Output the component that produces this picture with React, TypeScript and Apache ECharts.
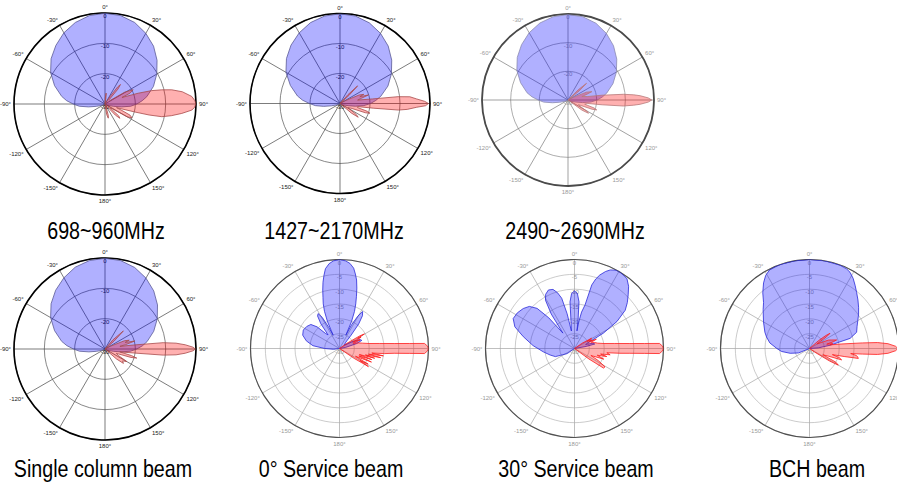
import React, { useEffect, useRef } from 'react';
import * as echarts from 'echarts';

type Pat = [number, number][]; // [angle (deg, clockwise from top), level (dB)]

// ---- tick labels / titles ----
const topTitles = ['698~960MHz', '1427~2170MHz', '2490~2690MHz'];
const bottomTitles = ['Single column beam', '0° Service beam', '30° Service beam', 'BCH beam'];
const radiusMin = -30;
const radiusMax = 0;

// ---- 698~960MHz ----
const h698: Pat = [[-180,-30],[-130,-30],[-115,-29],[-105,-27],[-100,-24.5],[-95,-21.5],[-90,-19.5],[-85,-17.3],[-80,-15.5],[-70,-12.3],[-60,-9.3],[-50,-6.8],[-40,-4.8],[-30,-2.9],[-20,-1.4],[-10,-0.4],[0,-0.1],[10,-0.4],[20,-1.4],[30,-3.1],[40,-5.1],[50,-7.6],[60,-10.3],[70,-13],[80,-16],[85,-17.7],[90,-19.5],[95,-21.5],[100,-24.5],[105,-27],[115,-29],[130,-30],[180,-30]];
const v698: Pat = [[0,-30],[3,-28],[6,-26.4],[9,-28],[14,-30],[31,-30],[34,-27],[36.5,-23],[38.5,-21.8],[41,-23.5],[44,-28],[55,-28],[59,-22.5],[63,-19.6],[66.5,-21],[69,-24],[72,-18.5],[74,-14],[76,-10.7],[78,-7.5],[81,-4.2],[85,-1.3],[88,-0.3],[90,-0.1],[92,-0.4],[94,-1.3],[97,-4.5],[100,-7.8],[102.6,-10.8],[104,-15],[105,-19.8],[107.5,-26],[111,-24],[114,-21],[117,-20],[120,-21.5],[123,-27],[127,-28],[131,-24],[134,-23.2],[137,-25],[141,-29],[160,-29],[164,-26],[167,-25.2],[171,-26.5],[176,-30],[180,-30]];

// ---- 1427~2170MHz ----
const h1427: Pat = [[-180,-30],[-130,-30],[-115,-29],[-105,-27],[-100,-24.5],[-95,-21.8],[-90,-19.8],[-85,-17.5],[-80,-15.6],[-70,-12.4],[-60,-9.2],[-50,-6.7],[-40,-4.6],[-30,-2.8],[-20,-1.3],[-10,-0.4],[0,-0.1],[10,-0.4],[20,-1.4],[30,-3],[40,-5],[50,-7.5],[60,-10.2],[70,-13],[80,-16.2],[85,-18],[90,-19.8],[95,-22],[100,-24.8],[105,-27.2],[115,-29],[130,-30],[180,-30]];
const v1427: Pat = [[0,-30],[40,-30],[42,-26],[45,-21.7],[48,-26],[52,-30],[62,-28],[66,-23],[69,-21.5],[71,-23],[73.3,-20.1],[76,-22.5],[79,-24],[82,-19],[83.3,-10.5],[84.5,-6.6],[86.6,-4.4],[88.5,-1.8],[90,-0.5],[91.5,-1.5],[92.8,-4.4],[95,-7.5],[96.4,-10.4],[98,-18.8],[100,-24],[103,-24],[106,-20.5],[108,-19.5],[110,-21],[113,-26],[118,-27],[124,-23.5],[127,-22.4],[130,-25],[134,-30],[180,-30]];

// ---- 2490~2690MHz ----
const h2490: Pat = [[-180,-30],[-130,-30],[-115,-29],[-105,-27],[-100,-24.5],[-95,-21.5],[-90,-19.6],[-85,-17.4],[-80,-15.5],[-70,-12.4],[-60,-9.4],[-50,-6.9],[-40,-4.8],[-30,-2.9],[-20,-1.4],[-10,-0.5],[0,-0.2],[10,-0.5],[20,-1.5],[30,-3.2],[40,-5.3],[50,-7.8],[60,-10.5],[70,-13.3],[80,-16.3],[85,-18],[90,-19.8],[95,-22],[100,-24.8],[105,-27.2],[115,-29],[130,-30],[180,-30]];
const v2490: Pat = [[0,-30],[42,-30],[45,-25],[48,-21.3],[51,-25],[55,-30],[63,-28],[67,-23],[70.7,-21.2],[73,-23],[76,-25],[80,-23],[82,-18],[84.1,-10.6],[85.5,-7],[86.6,-4.8],[88.5,-2],[90,-0.8],[91.5,-2],[93.4,-4.8],[94.5,-7],[96.2,-10.6],[98,-18],[100,-23],[104,-24],[107,-20.5],[109,-19.4],[111,-21],[114,-26],[118,-25],[121,-22],[123,-21.5],[126,-24],[130,-30],[180,-30]];

// ---- Single column beam ----
const hSingle: Pat = [[-180,-30],[-130,-30],[-115,-29],[-105,-27],[-100,-24.6],[-95,-21.6],[-90,-19.6],[-85,-17.4],[-80,-15.5],[-70,-12.3],[-60,-9.3],[-50,-6.8],[-40,-4.7],[-30,-2.9],[-20,-1.3],[-10,-0.4],[0,-0.1],[10,-0.4],[20,-1.4],[30,-3],[40,-5],[50,-7.4],[60,-10.1],[70,-12.9],[80,-15.9],[85,-17.6],[90,-19.5],[95,-21.6],[100,-24.6],[105,-27],[115,-29],[130,-30],[180,-30]];
const vSingle: Pat = [[0,-30],[38,-30],[41,-26],[45.5,-21.5],[49,-26],[53,-30],[63,-28],[67,-23],[70,-21.5],[72,-23],[75,-19.8],[78,-23],[80,-25],[82,-20.6],[83.8,-10.7],[85.3,-6.5],[87,-3.5],[88.8,-1],[90,-0.2],[91.2,-1],[93,-3.5],[94.7,-6.5],[96,-10.7],[98,-20.6],[101,-25],[104,-21],[106,-19.1],[108,-21],[111,-26],[116,-25],[120,-21.7],[124,-23],[128,-22.3],[131,-25],[135,-30],[180,-30]];

// ---- 0° Service beam ----
const hSvc0: Pat = [[-180,-30],[-110,-30],[-98,-28],[-90,-25],[-84,-21],[-77,-18.5],[-70,-16.8],[-63,-16.3],[-56,-16.7],[-50,-17.4],[-46,-19.5],[-43,-23],[-40,-24],[-37,-19.5],[-34,-16.8],[-31.5,-16.2],[-29,-18],[-27,-22],[-25.5,-25],[-24,-20],[-22,-16.5],[-20,-14],[-18,-12],[-16,-9.5],[-14,-7],[-12,-4.8],[-10,-2.7],[-7,-1.2],[-4,-0.4],[0,0],[4,-0.4],[7,-1.1],[10,-2.5],[12,-4.3],[14,-6.2],[16,-8.8],[18,-11.5],[20,-14],[22,-16.5],[24,-20],[25.5,-25],[27,-21],[29.5,-17.5],[32,-15.3],[35,-16.5],[38,-19.5],[41,-24],[45,-27],[55,-28],[62,-25],[66,-22.5],[70,-22],[74,-24],[80,-28],[90,-30],[180,-30]];
const vSvc0: Pat = [[0,-30],[50,-30],[55,-27],[58,-22],[59.7,-20.3],[61,-23],[62.5,-21.8],[64,-25],[66,-23],[67.5,-22.5],[69.5,-25],[73,-23.5],[77,-22],[80.4,-19.9],[82.8,-16.5],[84.8,-11.5],[85.9,-6.4],[86.6,-1.3],[88.5,-0.3],[90,0],[91.5,-0.3],[93.4,-1.3],[94,-6.4],[95,-11.5],[96.5,-14.8],[98,-19],[99.5,-15],[101,-20],[102.5,-15.8],[104,-21],[105.5,-17.7],[107,-23],[109,-18.5],[111,-23],[113,-18.3],[116,-24],[118.5,-19],[120.5,-22],[122,-18.5],[124,-24],[128,-30],[180,-30]];

// ---- 30° Service beam ----
const hSvc30: Pat = [[-180,-30],[-140,-30],[-125,-27],[-113,-23],[-105,-21.5],[-96,-19.4],[-86,-16],[-77,-12.3],[-70,-8.6],[-64,-7],[-58,-7.3],[-52,-8.1],[-47,-9.2],[-43,-11.5],[-40,-16.5],[-37,-23.5],[-34,-16],[-31,-11],[-28,-9.3],[-24,-8.4],[-20,-8.8],[-17,-10.3],[-14.3,-12.5],[-12,-18],[-10,-24],[-7,-20],[-5.5,-14.2],[-3,-11.4],[0,-10.6],[3,-11.4],[5.5,-14.2],[7,-20],[8,-24],[9,-21],[11,-17.5],[13.6,-14.9],[15.2,-7.8],[17,-5.5],[19,-3.8],[22,-2],[24.5,-0.9],[28,-0.1],[31,0],[34,-0.3],[37,-0.6],[41,-2.2],[45,-4.4],[49,-6.4],[53,-8.6],[57.5,-13],[62,-19],[66,-24.3],[70,-26],[74,-23.5],[77.5,-23],[80,-26],[86,-30],[180,-30]];
const vSvc30: Pat = [[0,-30],[50,-30],[55,-27],[59,-23.3],[61,-25],[63.7,-23.5],[65,-24.5],[67,-22],[69,-24],[73,-23],[77,-22],[80.4,-19.9],[82.8,-16.5],[84.8,-11.5],[85.9,-6.4],[86.6,-1.3],[88.5,-0.3],[90,0],[91.5,-0.3],[93.4,-1.3],[94,-6.4],[95,-11.5],[96,-14.6],[97.5,-19],[100,-17.8],[102,-21],[104,-18.8],[106.5,-22],[110,-19.5],[113,-24],[117,-21],[121,-18],[124,-18.2],[126,-24],[130,-30],[180,-30]];

// ---- BCH beam ----
const hBch: Pat = [[-180,-30],[-125,-30],[-112,-26],[-104,-23.3],[-96,-20.5],[-90,-19],[-82,-16.5],[-75,-15],[-70,-14],[-60,-12.1],[-50,-9.6],[-45,-8.1],[-40,-5.5],[-35,-3],[-31,-1.3],[-27,-0.3],[-20,0],[-10,0],[0,0],[10,0],[20,-0.1],[25,-0.4],[28,-0.9],[32,-2.2],[36,-3.8],[40,-5.3],[45,-6.9],[50,-8.4],[55,-9.8],[60,-11.2],[65,-12.3],[71,-13.2],[76,-15.9],[81,-23],[86,-27],[92,-30],[180,-30]];
const vBch: Pat = [[0,-30],[45,-30],[49,-26],[51.5,-23],[53.5,-21.4],[55.5,-23],[58,-27],[62,-26],[66,-23],[69,-22],[72.5,-20.4],[74,-21.6],[76,-24],[78,-22],[80,-23],[82,-19],[84,-12],[85,-7],[86.5,-3.5],[88.5,-1],[90,-0.2],[91.5,-1],[93.5,-3.5],[95,-7],[96,-12],[97,-16],[98.5,-14],[100,-13.5],[101.5,-13.2],[103,-18],[105,-22],[107,-19.5],[109.5,-18.5],[112,-23],[115,-25],[117.5,-20],[120,-18.8],[122,-22],[125,-28],[130,-30],[180,-30]];

// ---- styles & layout ----
const styleClassic = { ring: '#555', spoke: '#444', outer: '#000', outerW: 1.6, label: '#222', hLine: '#5a5a96', vLine: '#a84a4a', step: 10 };
const styleFaded = { ring: '#8a8a8a', spoke: '#7a7a7a', outer: '#4a4a4a', outerW: 1.8, label: '#999', hLine: '#8a8ab0', vLine: '#b87878', step: 10 };
const styleModern = { ring: '#b4b4b4', spoke: '#a4a4a4', outer: '#505050', outerW: 1.2, label: '#999', hLine: '#2a2ad8', vLine: '#ff1a1a', step: 5 };

const panels = [
  { c: [105, 104], r: 91, s: styleClassic, h: h698, v: v698 },
  { c: [340, 103.5], r: 90, s: styleClassic, h: h1427, v: v1427 },
  { c: [568, 100], r: 86, s: styleFaded, h: h2490, v: v2490 },
  { c: [105, 349], r: 91, s: styleClassic, h: hSingle, v: vSingle },
  { c: [339.5, 348.5], r: 89, s: styleModern, h: hSvc0, v: vSvc0 },
  { c: [574.5, 348.5], r: 89, s: styleModern, h: hSvc30, v: vSvc30 },
  { c: [809.5, 348.5], r: 89, s: styleModern, h: hBch, v: vBch },
];
const topTitlePos = [[106, 231], [334, 231], [575, 231]];
const bottomTitlePos = [[103, 469], [331, 469], [576, 469], [817, 469]];

const FONT = '"Liberation Sans", Arial, sans-serif';

const toData = (p: Pat) => p.map(([a, v]) => [v, a < 0 ? a + 360 : a]);
const fmtAngle = (v: number) => (v >= 360 ? '' : (v > 180 ? v - 360 : v) + '°');

const titleEl = (t: string, pos: number[]) => ({
  type: 'group',
  x: pos[0],
  y: pos[1],
  scaleX: 0.82,
  scaleY: 1,
  children: [
    {
      type: 'text',
      x: 0,
      y: 0,
      style: { text: t, fontSize: 24, fontFamily: FONT, fill: '#000', align: 'center', verticalAlign: 'middle' },
    },
  ],
});

export default function App() {
  const ref = useRef<HTMLDivElement>(null);
  useEffect(() => {
    if (!ref.current) return;
    const chart = echarts.init(ref.current, undefined, { renderer: 'svg' });
    const option: any = {
      animation: false,
      backgroundColor: '#fff',
      polar: panels.map((p) => ({ center: p.c, radius: p.r })),
      angleAxis: panels.map((p, i) => ({
        polarIndex: i,
        type: 'value',
        min: 0,
        max: 360,
        interval: 30,
        startAngle: 90,
        clockwise: true,
        axisLine: { show: true, lineStyle: { color: p.s.outer, width: p.s.outerW } },
        axisTick: { show: false },
        splitLine: { show: true, lineStyle: { color: p.s.spoke, width: 0.7 } },
        axisLabel: { margin: 3, fontSize: 6, color: p.s.label, fontFamily: FONT, formatter: fmtAngle },
        z: 1,
      })),
      radiusAxis: panels.map((p, i) => ({
        polarIndex: i,
        type: 'value',
        min: radiusMin,
        max: radiusMax,
        interval: p.s.step,
        axisLine: { show: false },
        axisTick: { show: false },
        splitLine: { show: true, lineStyle: { color: p.s.ring, width: 0.7 } },
        axisLabel: { margin: 0, fontSize: 6, color: p.s.label, fontFamily: FONT, align: 'center', verticalAlign: 'top' },
        z: 1,
      })),
      series: panels.flatMap((p, i) => [
        {
          type: 'line',
          coordinateSystem: 'polar',
          polarIndex: i,
          data: toData(p.h),
          symbol: 'none',
          silent: true,
          lineStyle: { color: p.s.hLine, width: 0.8 },
          areaStyle: { color: '#0000ff', opacity: 0.31, origin: 'start' },
          z: 2,
        },
        {
          type: 'line',
          coordinateSystem: 'polar',
          polarIndex: i,
          data: toData(p.v),
          symbol: 'none',
          silent: true,
          lineStyle: { color: p.s.vLine, width: 0.8 },
          areaStyle: { color: '#ff0000', opacity: 0.31, origin: 'start' },
          z: 3,
        },
      ]),
      graphic: [
        ...topTitles.map((t, i) => titleEl(t, topTitlePos[i])),
        ...bottomTitles.map((t, i) => titleEl(t, bottomTitlePos[i])),
      ],
    };
    chart.setOption(option);
    return () => chart.dispose();
  }, []);
  return <div ref={ref} style={{ position: 'absolute', left: 0, top: 0, width: 897, height: 483 }} />;
}
